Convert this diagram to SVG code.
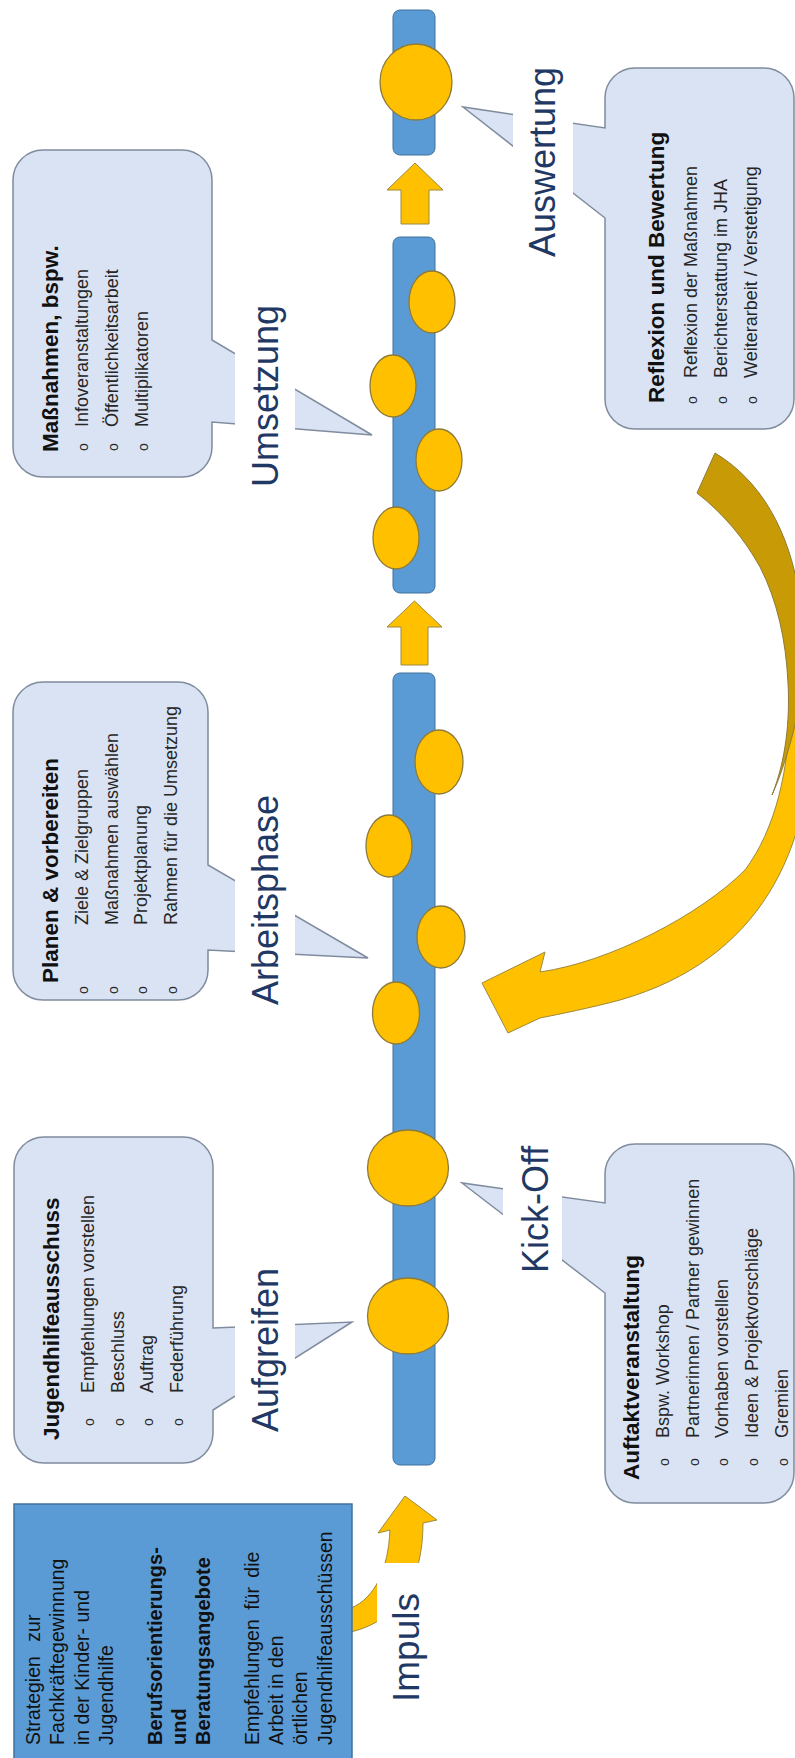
<svg xmlns="http://www.w3.org/2000/svg" width="795" height="1758" viewBox="0 0 795 1758">
<style>
text{font-family:"Liberation Sans",Arial,sans-serif;}
.bar{fill:#5B9BD5;stroke:#41719C;stroke-width:1}
.dot{fill:#FFC000;stroke:#8C7B3A;stroke-width:1.3}
.arr{fill:#FFC000;stroke:#9C8A3C;stroke-width:1}
.back{fill:#C89A06;stroke:#8C7B3A;stroke-width:1}
.call{fill:#DAE3F3;stroke:#7F8C9D;stroke-width:1.5}
.lblbg{fill:#fff}
.lbl{font-size:36px;fill:#1F3864}
.ttl{font-size:22.5px;font-weight:bold;fill:#111}
.itm{font-size:18px;fill:#262626}
.bul{font-size:14px;fill:#262626;text-anchor:middle}
.box{fill:#5B9BD5;stroke:#41719C;stroke-width:1.5}
.bx{font-size:19.5px;fill:#111}
.bxb{font-size:20px;font-weight:bold;fill:#111}
</style>
<g id="connectors">
  <path class="arr" d="M405,1496 L437,1520 L423,1523 C423,1580 400,1620 351,1632 L351,1608 C375,1598 388,1570 390,1530 L378,1533 Z"/>
  <path class="arr" d="M414.5,601 L442,627 L428,627 L428,665 L401,665 L401,627 L387,627 Z"/>
  <path class="arr" d="M415,163 L443,190 L429,190 L429,224 L401,224 L401,190 L387,190 Z"/>
  <path class="arr" d="M788,640 L812,600 L812,720 C812,850 760,960 620,1000 C590,1008 560,1014 540,1018 L508,1033 L482,983 L545,952 L540,972 C610,962 700,915 745,870 C775,830 790,770 790,700 Z"/>
  <path class="back" d="M715,453 C760,480 790,530 800,600 L812,620 C805,690 792,750 772,795 C786,760 790,720 788,683 C786,640 777,600 760,567 C745,540 725,515 697,493 Z"/>
</g>
<g transform="translate(0,1758) rotate(-90)">
  <g id="timeline">
    <rect class="bar" x="293" y="393" width="792" height="42" rx="7"/>
    <rect class="bar" x="1165" y="393" width="356" height="42" rx="7"/>
    <rect class="bar" x="1603" y="393" width="145" height="42" rx="7"/>
    <ellipse class="dot" cx="442" cy="408" rx="38" ry="40.5"/>
    <ellipse class="dot" cx="590" cy="408" rx="38" ry="40.5"/>
    <ellipse class="dot" cx="745" cy="396" rx="31" ry="23.5"/>
    <ellipse class="dot" cx="821" cy="441" rx="31" ry="24"/>
    <ellipse class="dot" cx="912" cy="389" rx="31" ry="23"/>
    <ellipse class="dot" cx="996" cy="439" rx="32" ry="24"/>
    <ellipse class="dot" cx="1220" cy="396" rx="31" ry="23"/>
    <ellipse class="dot" cx="1298" cy="439" rx="31" ry="23"/>
    <ellipse class="dot" cx="1372" cy="393" rx="31" ry="23"/>
    <ellipse class="dot" cx="1456" cy="432" rx="31" ry="23"/>
    <ellipse class="dot" cx="1676" cy="416" rx="38" ry="36"/>
  </g>
  <g id="impuls-box">
    <rect class="box" x="-5" y="14" width="259" height="338"/>
    <text class="bx" x="13" y="40" style="word-spacing:9px">Strategien zur</text>
    <text class="bx" x="13" y="64.3">Fachkräftegewinnung</text>
    <text class="bx" x="13" y="88.6">in der Kinder- und</text>
    <text class="bx" x="13" y="112.9">Jugendhilfe</text>
    <text class="bxb" x="13" y="161.5">Berufsorientierungs-</text>
    <text class="bxb" x="13" y="185.8">und</text>
    <text class="bxb" x="13" y="210.1">Beratungsangebote</text>
    <text class="bx" x="13" y="258.7" style="word-spacing:4px">Empfehlungen für die</text>
    <text class="bx" x="13" y="283">Arbeit in den</text>
    <text class="bx" x="13" y="307.3">örtlichen</text>
    <text class="bx" x="13" y="331.6">Jugendhilfeausschüssen</text>
  </g>
  <g id="callout-jha">
    <path class="call" d="M325,14 H591 A30,30 0 0 1 621,44 V183 A30,30 0 0 1 591,213 H430 L436,352 L348,213 H325 A30,30 0 0 1 295,183 V44 A30,30 0 0 1 325,14 Z"/>
    <text class="ttl" x="318" y="59">Jugendhilfeausschuss</text>
    <text class="bul" x="336" y="94">o</text>
    <text class="bul" x="336" y="123.5">o</text>
    <text class="bul" x="336" y="153">o</text>
    <text class="bul" x="336" y="182.5">o</text>
    <text class="itm" x="365" y="94">Empfehlungen vorstellen</text>
    <text class="itm" x="365" y="123.5">Beschluss</text>
    <text class="itm" x="365" y="153">Auftrag</text>
    <text class="itm" x="365" y="182.5">Federführung</text>
  </g>
  <g id="callout-planen">
    <path class="call" d="M788,13 H1046 A30,30 0 0 1 1076,43 V178 A30,30 0 0 1 1046,208 H893 L800,368 L808,208 H788 A30,30 0 0 1 758,178 V43 A30,30 0 0 1 788,13 Z"/>
    <text class="ttl" x="775" y="58">Planen &amp; vorbereiten</text>
    <text class="bul" x="768" y="88">o</text>
    <text class="bul" x="768" y="117.5">o</text>
    <text class="bul" x="768" y="147">o</text>
    <text class="bul" x="768" y="176.5">o</text>
    <text class="itm" x="833" y="88">Ziele &amp; Zielgruppen</text>
    <text class="itm" x="833" y="117.5">Maßnahmen auswählen</text>
    <text class="itm" x="833" y="147">Projektplanung</text>
    <text class="itm" x="833" y="176.5">Rahmen für die Umsetzung</text>
  </g>
  <g id="callout-massnahmen">
    <path class="call" d="M1311,13 H1578 A30,30 0 0 1 1608,43 V182 A30,30 0 0 1 1578,212 H1418 L1323,372 L1336,212 H1311 A30,30 0 0 1 1281,182 V43 A30,30 0 0 1 1311,13 Z"/>
    <text class="ttl" x="1306" y="58">Maßnahmen, bspw.</text>
    <text class="bul" x="1311" y="88">o</text>
    <text class="bul" x="1311" y="118">o</text>
    <text class="bul" x="1311" y="148">o</text>
    <text class="itm" x="1331" y="88">Infoveranstaltungen</text>
    <text class="itm" x="1331" y="118">Öffentlichkeitsarbeit</text>
    <text class="itm" x="1331" y="148">Multiplikatoren</text>
  </g>
  <g id="callout-auftakt">
    <path class="call" d="M285,605 H465 L575,462 L555,605 H584 A30,30 0 0 1 614,635 V764 A30,30 0 0 1 584,794 H285 A30,30 0 0 1 255,764 V635 A30,30 0 0 1 285,605 Z"/>
    <text class="ttl" x="278" y="639">Auftaktveranstaltung</text>
    <text class="bul" x="296" y="669">o</text>
    <text class="bul" x="296" y="698.7">o</text>
    <text class="bul" x="296" y="728.4">o</text>
    <text class="bul" x="296" y="758.1">o</text>
    <text class="bul" x="296" y="787.8">o</text>
    <text class="itm" x="320" y="669">Bspw. Workshop</text>
    <text class="itm" x="320" y="698.7">Partnerinnen / Partner gewinnen</text>
    <text class="itm" x="320" y="728.4">Vorhaben vorstellen</text>
    <text class="itm" x="320" y="758.1">Ideen &amp; Projektvorschläge</text>
    <text class="itm" x="320" y="787.8">Gremien</text>
  </g>
  <g id="callout-reflexion">
    <path class="call" d="M1359,605 H1540 L1651,463 L1630,605 H1660 A30,30 0 0 1 1690,635 V764 A30,30 0 0 1 1660,794 H1359 A30,30 0 0 1 1329,764 V635 A30,30 0 0 1 1359,605 Z"/>
    <text class="ttl" x="1355" y="664">Reflexion und Bewertung</text>
    <text class="bul" x="1358" y="697">o</text>
    <text class="bul" x="1358" y="727">o</text>
    <text class="bul" x="1358" y="757">o</text>
    <text class="itm" x="1380" y="697">Reflexion der Maßnahmen</text>
    <text class="itm" x="1380" y="727">Berichterstattung im JHA</text>
    <text class="itm" x="1380" y="757">Weiterarbeit / Verstetigung</text>
  </g>
  <g id="labels">
    <rect class="lblbg" x="38" y="377" width="157" height="65"/>
    <text class="lbl" x="56" y="419" style="font-size:37px">Impuls</text>
    <rect class="lblbg" x="316" y="235" width="185" height="60"/>
    <text class="lbl" x="326" y="278">Aufgreifen</text>
    <rect class="lblbg" x="475" y="503" width="150" height="59"/>
    <text class="lbl" x="485" y="548">Kick-Off</text>
    <rect class="lblbg" x="745" y="235" width="218" height="60"/>
    <text class="lbl" x="753" y="278">Arbeitsphase</text>
    <rect class="lblbg" x="1261" y="235" width="205" height="60"/>
    <text class="lbl" x="1271" y="278">Umsetzung</text>
    <rect class="lblbg" x="1491" y="513" width="215" height="60"/>
    <text class="lbl" x="1501" y="555">Auswertung</text>
  </g>
</g>
</svg>
